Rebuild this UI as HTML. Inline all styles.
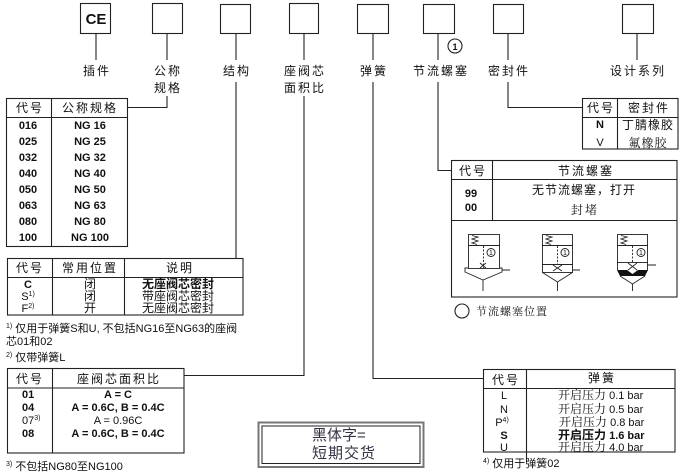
<!DOCTYPE html>
<html><head><meta charset="utf-8"><style>
html,body{margin:0;padding:0;background:#fff;}
svg{display:block;}
text{font-family:"Liberation Sans","Noto Sans CJK SC",sans-serif;fill:#111;}
.s{font-family:"Liberation Serif","Noto Serif CJK SC",serif;}
.b{font-weight:bold;}
.m{text-anchor:middle;}
</style></head><body>
<svg width="681" height="473" viewBox="0 0 681 473" xmlns="http://www.w3.org/2000/svg">
<g fill="none" stroke="#222" stroke-width="1.1">
  <rect x="80.5" y="3.5" width="30" height="30"/>
  <rect x="152.5" y="3.5" width="30" height="30"/>
  <rect x="220.5" y="4.5" width="30" height="29"/>
  <rect x="289.5" y="3.5" width="29" height="30"/>
  <rect x="357.5" y="4.5" width="31" height="29"/>
  <rect x="423.5" y="4.5" width="31" height="29"/>
  <rect x="493.5" y="4.5" width="30" height="29"/>
  <rect x="622.5" y="4.5" width="31" height="29"/>
  <path d="M96,33 V60 M167,33 V60 M236,34 V60 M304,33 V60 M373,33 V60 M438,33 V60 M508,33 V60 M637,33 V60"/>
  <path d="M167,96 V107.5 H127"/>
  <path d="M236,82 V258"/>
  <path d="M304,96 V375.5 H184"/>
  <path d="M373,82 V378.5 H483"/>
  <path d="M438,82 V170.5 H451"/>
  <path d="M508,82 V107.5 H582"/>
  <circle cx="455" cy="46" r="7"/>

  <rect x="6.5" y="98.5" width="121" height="148"/>
  <path d="M6,117.5 H127 M51.5,98 V246"/>
  <rect x="7.5" y="258.5" width="235.5" height="56.5"/>
  <path d="M7,277.5 H243 M52.5,258 V315 M124.5,258 V315"/>
  <rect x="7.5" y="368.5" width="176.5" height="84.5"/>
  <path d="M7,388 H184 M52.5,368 V453"/>
  <rect x="582.5" y="98.5" width="95.5" height="50.5"/>
  <path d="M582,117.5 H678 M617.5,98 V149"/>
  <rect x="451.5" y="160.5" width="225.5" height="136.5"/>
  <path d="M451,179.5 H677 M451,220.5 H677 M492.5,160 V220"/>
  <rect x="483.5" y="369.5" width="191.5" height="82.5"/>
  <path d="M483,388.5 H675 M526.5,369 V462"/>

  <circle cx="462" cy="311" r="7"/>

  <rect x="258.5" y="422.5" width="165" height="44.5" stroke="#777" stroke-width="2"/>
  <rect x="262" y="426" width="158" height="37.5" stroke="#222" stroke-width="1"/>
</g>

<g fill="none" stroke="#222" stroke-width="0.9">
  <rect x="468.5" y="234.5" width="31" height="34"/>
  <path d="M468,245.5 H500"/>
  <polyline points="472,235.5 478,237 472,239 478,241 472,243 477,244.5"/>
  <path d="M483.5,246 V268" stroke-dasharray="2,1.5"/>
  <circle cx="491" cy="252.5" r="4"/>
  <path d="M480,263 L486,268 M486,263 L480,268"/>
  <path d="M468,268 H465 V272 L483,280 L502,272 V268 H500"/>
  <path d="M483,280 V291 M502,270 H510"/>
  <rect x="542.5" y="234.5" width="30" height="38"/>
  <path d="M542,245.5 H573 M542,264.5 H573"/>
  <polyline points="546,235.5 552,237 546,239 552,241 546,243 551,244.5"/>
  <path d="M557.5,246 V264" stroke-dasharray="2,1.5"/>
  <circle cx="565" cy="252.5" r="4"/>
  <path d="M553,265 L562,271 M562,265 L553,271"/>
  <path d="M542.5,272.5 L557.5,282 L572.5,272.5"/>
  <path d="M557.5,282 V291 M572,270 H580"/>
  <rect x="617.5" y="234.5" width="30" height="28"/>
  <path d="M617,245.5 H648"/>
  <polyline points="621,235.5 627,237 621,239 627,241 621,243 626,244.5"/>
  <path d="M632.5,246 V262" stroke-dasharray="2,1.5"/>
  <circle cx="641" cy="252.5" r="4"/>
  <path d="M617.5,262 V270 M647.5,262 V270 M628,263 L637,270 M637,263 L628,270"/>
  <path d="M620,276 L632.5,284 L645,276"/>
  <path d="M632.5,284 V291 M647,265 H656"/>
</g>
<polygon points="617,270 627,270 632.5,274 638,270 648,270 645,276 620,276" fill="#111"/>
<g font-size="7" class="m">
  <text x="491" y="255">1</text>
  <text x="565" y="255">1</text>
  <text x="641" y="255">1</text>
</g>

<text x="96" y="24" font-size="15" class="b m">CE</text>
<text x="455" y="50" font-size="9" class="b m">1</text>
<g font-size="12" class="m" letter-spacing="2">
  <text x="97" y="75">插件</text>
  <text x="168" y="75">公称</text>
  <text x="168" y="92">规格</text>
  <text x="237" y="75">结构</text>
  <text x="305" y="75">座阀芯</text>
  <text x="305" y="92">面积比</text>
  <text x="374" y="75">弹簧</text>
  <text x="441" y="75">节流螺塞</text>
  <text x="509" y="75">密封件</text>
  <text x="638" y="75">设计系列</text>
</g>

<g font-size="12" class="m" letter-spacing="2">
  <text x="30" y="112">代号</text>
  <text x="90" y="112">公称规格</text>
</g>
<g font-size="11" class="b m">
  <text x="28" y="129">016</text><text x="90" y="129">NG 16</text>
  <text x="28" y="145">025</text><text x="90" y="145">NG 25</text>
  <text x="28" y="161">032</text><text x="90" y="161">NG 32</text>
  <text x="28" y="177">040</text><text x="90" y="177">NG 40</text>
  <text x="28" y="193">050</text><text x="90" y="193">NG 50</text>
  <text x="28" y="209">063</text><text x="90" y="209">NG 63</text>
  <text x="28" y="225">080</text><text x="90" y="225">NG 80</text>
  <text x="28" y="241">100</text><text x="90" y="241">NG 100</text>
</g>

<g font-size="12" class="m s" letter-spacing="2">
  <text x="30" y="272">代号</text>
  <text x="90" y="272">常用位置</text>
  <text x="180" y="272">说明</text>
</g>
<g font-size="11" class="m">
  <text x="28" y="288" class="b">C</text>
  <text x="28" y="300">S<tspan font-size="7" dy="-4">1)</tspan></text>
  <text x="28" y="312">F<tspan font-size="7" dy="-4">2)</tspan></text>
</g>
<g font-size="12" class="m s">
  <text x="90" y="288">闭</text>
  <text x="90" y="300">闭</text>
  <text x="90" y="312">开</text>
  <text x="178" y="288" class="b" font-family="Liberation Sans, Noto Sans CJK SC, sans-serif">无座阀芯密封</text>
  <text x="178" y="300">带座阀芯密封</text>
  <text x="178" y="312">无座阀芯密封</text>
</g>
<g font-size="11">
  <text x="6" y="332"><tspan font-size="7" dy="-4">1)</tspan><tspan dy="4"> 仅用于弹簧S和U, 不包括NG16至NG63的座阀</tspan></text>
  <text x="6" y="345">芯01和02</text>
  <text x="6" y="361"><tspan font-size="7" dy="-4">2)</tspan><tspan dy="4"> 仅带弹簧L</tspan></text>
  <text x="6" y="470"><tspan font-size="7" dy="-4">3)</tspan><tspan dy="4"> 不包括NG80至NG100</tspan></text>
  <text x="483" y="467"><tspan font-size="7" dy="-4">4)</tspan><tspan dy="4"> 仅用于弹簧02</tspan></text>
</g>

<g font-size="12" class="m s" letter-spacing="2">
  <text x="30" y="383">代号</text>
  <text x="119" y="383">座阀芯面积比</text>
</g>
<g font-size="11">
  <text x="22" y="398" class="b">01</text>
  <text x="22" y="411" class="b">04</text>
  <text x="22" y="424">07<tspan font-size="7" dy="-4">3)</tspan></text>
  <text x="22" y="437" class="b">08</text>
  <text x="118" y="398" class="b m">A = C</text>
  <text x="118" y="411" class="b m">A = 0.6C, B = 0.4C</text>
  <text x="118" y="424" class="m">A = 0.96C</text>
  <text x="118" y="437" class="b m">A = 0.6C, B = 0.4C</text>
</g>

<g font-size="12" class="m s" letter-spacing="2">
  <text x="601" y="112">代号</text>
  <text x="649" y="112">密封件</text>
</g>
<text x="600" y="128" font-size="11" class="b m">N</text>
<text x="600" y="146" font-size="11" class="m">V</text>
<text x="648" y="129" font-size="12" class="m" letter-spacing="1">丁腈橡胶</text>
<text x="648" y="147" font-size="12" class="m s" letter-spacing="1">氟橡胶</text>

<g font-size="12" class="m s" letter-spacing="2">
  <text x="473" y="175">代号</text>
  <text x="586" y="175">节流螺塞</text>
</g>
<text x="471" y="197" font-size="11" class="b m">99</text>
<text x="471" y="211" font-size="11" class="b m">00</text>
<text x="584" y="194" font-size="12" class="m" letter-spacing="1">无节流螺塞，打开</text>
<text x="585" y="214" font-size="12" class="m s" letter-spacing="2">封堵</text>

<text x="476" y="315" font-size="11" class="s" letter-spacing="1">节流螺塞位置</text>

<g font-size="12" class="m s" letter-spacing="2">
  <text x="506" y="384">代号</text>
  <text x="602" y="382">弹簧</text>
</g>
<g font-size="11" class="m">
  <text x="504" y="399">L</text>
  <text x="504" y="413">N</text>
  <text x="502" y="426">P<tspan font-size="7" dy="-4">4)</tspan></text>
  <text x="504" y="439" class="b">S</text>
  <text x="504" y="451">U</text>
</g>
<g font-size="11">
  <text x="558" y="399"><tspan class="s" font-size="12">开启压力</tspan>  0.1 bar</text>
  <text x="558" y="413"><tspan class="s" font-size="12">开启压力</tspan>  0.5 bar</text>
  <text x="559" y="426"><tspan class="s" font-size="12">开启压力</tspan> 0.8 bar</text>
  <text x="558" y="439" class="b"><tspan font-size="12">开启压力</tspan>  1.6 bar</text>
  <text x="558" y="451"><tspan class="s" font-size="12">开启压力</tspan>  4.0 bar</text>
</g>

<g font-size="15" class="s">
  <text x="312" y="440" style="fill:#334">黑体字=</text>
  <text x="312" y="458" style="fill:#334" letter-spacing="1">短期交货</text>
</g>
</svg>
</body></html>
